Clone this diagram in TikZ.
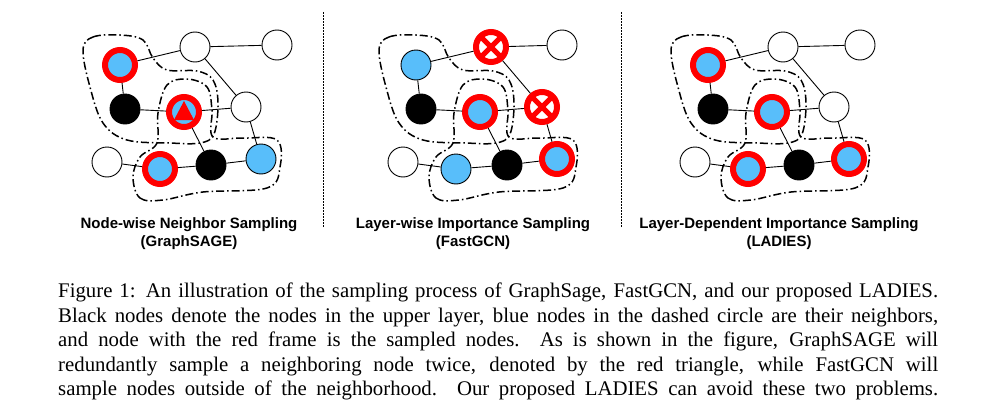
\documentclass[tikz,border=0pt]{standalone}
\usepackage{fontspec}
\setmainfont{Liberation Serif}
\newfontfamily\labelfont{Liberation Sans}
\usetikzlibrary{positioning}
\definecolor{nbrblue}{RGB}{88,190,250}

% the two dash-dot neighbourhoods of one panel
\newcommand{\hoods}{%
  \draw[hood] plot[smooth cycle, tension=0.6] coordinates {(83,50) (93,37) (120,35) (143,40) (153,58) (167,70) (197,71) (213,80) (218,103) (214,134) (200,143) (170,143) (127,140) (103,123) (90,87)};
  \draw[hood] plot[smooth cycle, tension=0.6] coordinates {(133,177) (140,198) (163,200) (203,192) (267,188) (280,167) (277,140) (243,138) (213,137) (212,110) (207,87) (187,79) (167,85) (158,113) (157,143) (140,157)};
}

\begin{document}
\begin{tikzpicture}[x=1pt, y=-1pt,
    plain/.style={circle, draw, fill=white, line width=0.9pt, minimum size=30pt, inner sep=0pt},
    upper/.style={plain, fill=black},
    nbr/.style={plain, fill=nbrblue},
    picked/.style={plain, draw=red, line width=6pt, fill=nbrblue},
    twice/.style={picked, path picture={\fill[red] ([yshift=11pt]path picture bounding box.center) -- ([shift={(-10pt,-8pt)}]path picture bounding box.center) -- ([shift={(10pt,-8pt)}]path picture bounding box.center) -- cycle;}},
    wrong/.style={picked, fill=white, path picture={\draw[red, line width=5pt] (path picture bounding box.north west) -- (path picture bounding box.south east) (path picture bounding box.north east) -- (path picture bounding box.south west);}},
    link/.style={line width=0.9pt},
    hood/.style={line width=1.5pt, dash pattern=on 8pt off 3pt on 1.5pt off 3pt},
    sep/.style={line width=1pt, dash pattern=on 1.5pt off 1.5pt},
    title/.style={align=center, inner sep=0pt, font=\labelfont\bfseries\fontsize{15}{18}\selectfont}]
  \useasboundingbox (0,0) rectangle (986,415);

  % GraphSAGE: node-wise neighbor sampling
  \begin{scope}
    \node[plain] (sA) at (195,47) {};
    \node[plain] (sB) at (277,45) {};
    \node[picked] (sC) at (120,65) {};
    \node[upper] (sD) at (125,109) {};
    \node[twice] (sE) at (184,112) {};
    \node[plain] (sF) at (246,107) {};
    \node[plain] (sG) at (107,162) {};
    \node[picked] (sH) at (160,169) {};
    \node[upper] (sI) at (211,165) {};
    \node[nbr] (sJ) at (261,159) {};
    \foreach \u/\v in {A/B, C/A, C/D, D/E, E/F, A/F, E/I, F/J, G/H, H/I, I/J}
      \draw[link] (s\u) -- (s\v);
    \hoods
    \node[title, anchor=north] (sName) at (189,217) {Node-wise Neighbor Sampling\\(GraphSAGE)};
  \end{scope}

  % FastGCN: layer-wise importance sampling
  \begin{scope}[xshift=296pt]
    \node[wrong] (fA) at (195,47) {};
    \node[plain] (fB) at (266,45) {};
    \node[nbr] (fC) at (120,65) {};
    \node[upper] (fD) at (125,109) {};
    \node[picked] (fE) at (184,112) {};
    \node[wrong] (fF) at (246,107) {};
    \node[plain] (fG) at (107,162) {};
    \node[nbr] (fH) at (160,169) {};
    \node[upper] (fI) at (211,165) {};
    \node[picked] (fJ) at (261,159) {};
    \foreach \u/\v in {A/B, C/A, C/D, D/E, E/F, A/F, E/I, F/J, G/H, H/I, I/J}
      \draw[link] (f\u) -- (f\v);
    \hoods
    \node[title, anchor=north] (fName) at (177,217) {Layer-wise Importance Sampling\\(FastGCN)};
  \end{scope}

  % LADIES: layer-dependent importance sampling
  \begin{scope}[xshift=588pt]
    \node[plain] (lA) at (195,47) {};
    \node[plain] (lB) at (272,45) {};
    \node[picked] (lC) at (120,65) {};
    \node[upper] (lD) at (125,109) {};
    \node[picked] (lE) at (184,112) {};
    \node[plain] (lF) at (246,107) {};
    \node[plain] (lG) at (107,162) {};
    \node[picked] (lH) at (160,169) {};
    \node[upper] (lI) at (211,165) {};
    \node[picked] (lJ) at (261,159) {};
    \foreach \u/\v in {A/B, C/A, C/D, D/E, E/F, A/F, E/I, F/J, G/H, H/I, I/J}
      \draw[link] (l\u) -- (l\v);
    \hoods
    \node[title, anchor=north] (lName) at (191,217) {Layer-Dependent Importance Sampling\\(LADIES)};
  \end{scope}

  % dotted separators between the panels
  \coordinate (sepA) at (323,12);
  \coordinate (sepB) at (621,12);
  \draw[sep] (sepA) -- ++(0,215);
  \draw[sep] (sepB) -- ++(0,215);

  % caption
  \node[anchor=north west, inner sep=0pt, font=\fontsize{20.8}{24.5}\selectfont] (caption) at (58,283)
  {\parbox[t]{880pt}{\parfillskip=0pt Figure 1: An illustration of the sampling process of GraphSage, FastGCN, and our proposed LADIES.\linebreak
   Black nodes denote the nodes in the upper layer, blue nodes in the dashed circle are their neighbors,\linebreak
   and node with the red frame is the sampled nodes.\ \ As is shown in the figure, GraphSAGE will\linebreak
   redundantly sample a neighboring node twice, denoted by the red triangle, while FastGCN will\linebreak
   sample nodes outside of the neighborhood. Our proposed LADIES can avoid these two problems.}};
\end{tikzpicture}
\end{document}
